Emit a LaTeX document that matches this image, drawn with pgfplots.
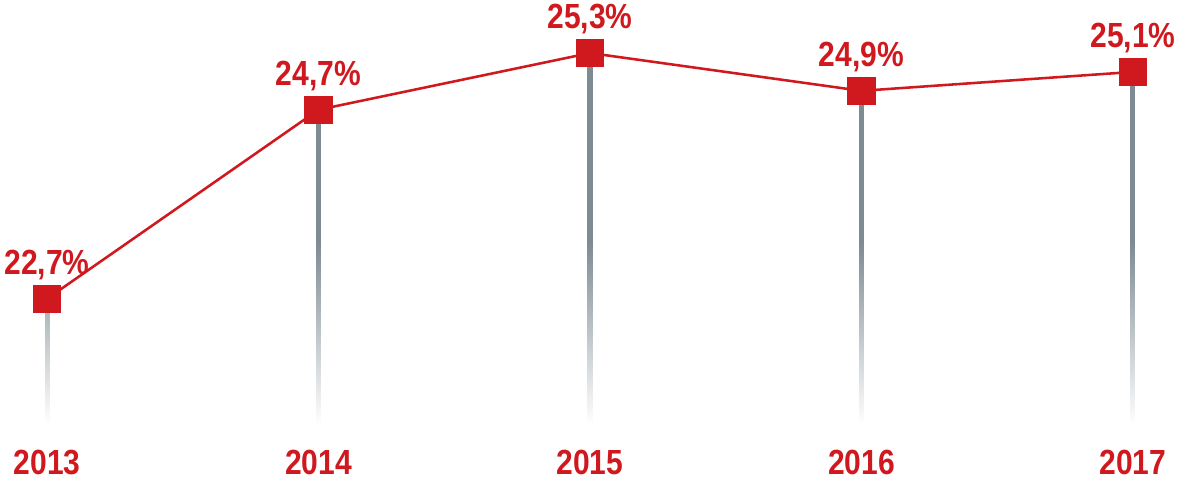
\documentclass[border=0pt]{standalone}
\usepackage{fontspec}
\setmainfont[FakeStretch=0.86]{Liberation Sans}
\usepackage{pgfplots}
\pgfplotsset{compat=1.18}
\usetikzlibrary{fadings}

\definecolor{redline}{HTML}{D0191F}
\definecolor{stemgray}{HTML}{7D8B93}

\pgfplotstableread{
x y
0 22.7
1 24.7
2 25.3
3 24.9
4 25.1
}\shares

\begin{document}
\begin{tikzpicture}
\begin{axis}[
  scale only axis, width=849pt, height=297pt,
  xmin=-0.1, xmax=4.1, ymin=21.38, ymax=25.6,
  axis line style={draw=none}, tick style={draw=none},
  ytick=\empty, xtick={0,1,2,3,4},
  xticklabels={2013,2014,2015,2016,2017},
  xticklabel style={anchor=base, yshift=-38pt, text=redline,
    font=\fontsize{26}{28}\selectfont\bfseries},
  /pgf/number format/assume math mode=true,
]
% stems
\addplot[ycomb, draw=stemgray, line width=3.75pt, no markers] table[x=x,y=y] {\shares};
% fade stems to white toward the bottom
\fill[white, path fading=north] (axis cs:-0.1,21.38) rectangle (axis cs:4.1,23.3);
% line with markers and labels
\addplot[redline, line width=1.9pt, mark=square*, mark size=9.6pt,
  mark options={fill=redline, draw=none},
  nodes near coords={\pgfmathprintnumber[fixed, precision=1, fixed zerofill, use comma]{\pgfplotspointmeta}\%},
  every node near coord/.append style={anchor=base, yshift=18pt, text=redline,
    font=\fontsize{26}{28}\selectfont\bfseries},
  ] table[x=x,y=y] {\shares};
\end{axis}
\path (current axis.south) ++(0,-44pt);
\end{tikzpicture}
\end{document}
